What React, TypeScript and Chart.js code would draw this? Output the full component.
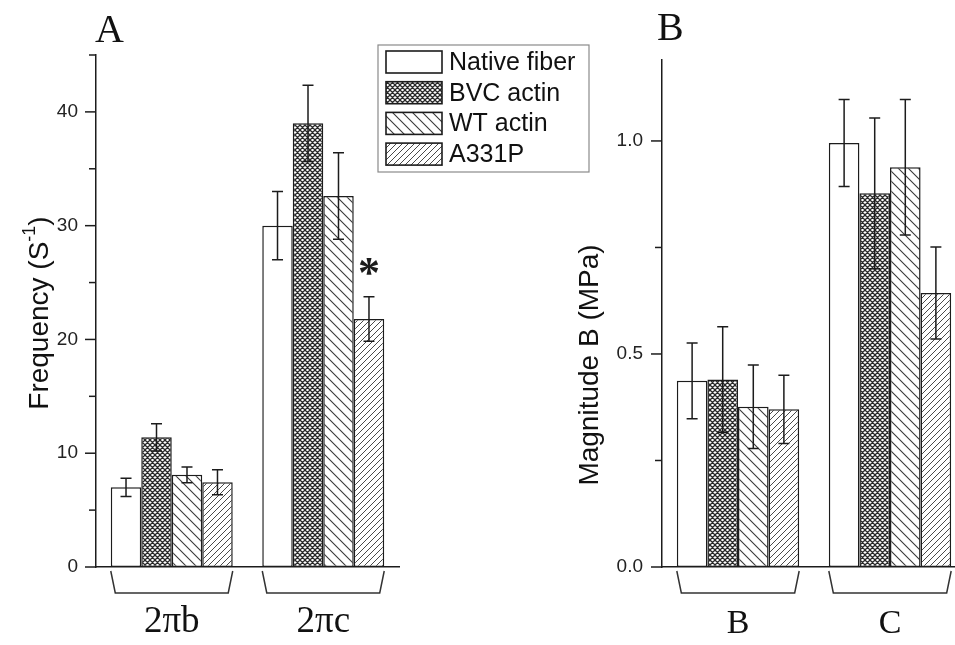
import React, { useEffect, useRef } from 'react';
import { Chart, registerables } from 'chart.js';

Chart.register(...registerables);

// ---------- data ----------
const seriesNames = ['Native fiber', 'BVC actin', 'WT actin', 'A331P'];

const freqCategories = ['2πb', '2πc'];
const freqNative = [7.0, 30.0];
const freqNativeErr = [0.8, 3.0];
const freqBVC = [11.4, 39.0];
const freqBVCErr = [1.2, 3.35];
const freqWT = [8.1, 32.6];
const freqWTErr = [0.7, 3.8];
const freqA331P = [7.45, 21.8];
const freqA331PErr = [1.1, 1.95];
const freqA331PMarks = ['', '*'];
const freqMax = 45;
const freqMinorStep = 5;
const freqMajorStep = 10;

const magCategories = ['B', 'C'];
const magNative = [0.437, 0.995];
const magNativeErr = [0.089, 0.102];
const magBVC = [0.44, 0.877];
const magBVCErr = [0.124, 0.177];
const magWT = [0.376, 0.938];
const magWTErr = [0.098, 0.159];
const magA331P = [0.37, 0.643];
const magA331PErr = [0.08, 0.108];
const magMax = 1.19;
const magMinorStep = 0.25;
const magMajorStep = 0.5;

// ---------- style ----------
const SANS = "'Liberation Sans', Arial, Helvetica, sans-serif";
const SERIF = "'Liberation Serif', 'Times New Roman', Times, serif";
const INK = '#1c1c1c';
const CAT_PCT = 0.805;

function makePattern(kind: string): any {
  const c = document.createElement('canvas');
  const s = kind === 'cross' ? 5 : kind === 'back' ? 10 : 6;
  c.width = s;
  c.height = s;
  const ctx = c.getContext('2d')!;
  ctx.fillStyle = '#fff';
  ctx.fillRect(0, 0, s, s);
  ctx.strokeStyle = kind === 'cross' ? '#2a2a2a' : kind === 'back' ? '#3a3a3a' : '#4a4a4a';
  ctx.lineWidth = kind === 'cross' ? 1.25 : kind === 'back' ? 1.1 : 1.0;
  ctx.beginPath();
  for (let k = -1; k <= 2; k++) {
    if (kind === 'cross' || kind === 'back') {
      ctx.moveTo(k * s - s - 1, -s - 1);
      ctx.lineTo(k * s + s + 1, s + 1);
    }
    if (kind === 'cross' || kind === 'fwd') {
      ctx.moveTo(k * s + s + 1, -s - 1);
      ctx.lineTo(k * s - s - 1, s + 1);
    }
  }
  ctx.stroke();
  return ctx.createPattern(c, 'repeat');
}

type TitlePart = { text: string; sup?: boolean };

interface DecorCfg {
  id: string;
  errors: number[][];
  marks?: string[][];
  letter: string;
  letterX: number;
  letterY: number;
  letterSize: number;
  title: TitlePart[];
  titleX: number;
  titleY: number;
  titleSize: number;
  legend?: { x: number; y: number; w: number; h: number };
}

function decorPlugin(cfg: DecorCfg) {
  return {
    id: cfg.id,
    afterDatasetsDraw(chart: any) {
      const ctx = chart.ctx;
      const ys = chart.scales.y;
      ctx.save();
      ctx.strokeStyle = INK;
      ctx.lineWidth = 1.5;
      chart.data.datasets.forEach((ds: any, di: number) => {
        const meta = chart.getDatasetMeta(di);
        meta.data.forEach((el: any, i: number) => {
          const v = ds.data[i];
          const e = cfg.errors[di][i];
          const yt = ys.getPixelForValue(v + e);
          const yb = ys.getPixelForValue(v - e);
          const x = el.x;
          ctx.beginPath();
          ctx.moveTo(x, yt);
          ctx.lineTo(x, yb);
          ctx.moveTo(x - 5.5, yt);
          ctx.lineTo(x + 5.5, yt);
          ctx.moveTo(x - 5.5, yb);
          ctx.lineTo(x + 5.5, yb);
          ctx.stroke();
          const m = cfg.marks && cfg.marks[di] ? cfg.marks[di][i] : '';
          if (m) {
            ctx.fillStyle = INK;
            ctx.font = `bold 44px ${SERIF}`;
            ctx.textAlign = 'center';
            ctx.textBaseline = 'alphabetic';
            ctx.fillText(m, x, yt - 10);
          }
        });
      });
      ctx.restore();
    },
    afterDraw(chart: any) {
      const ctx = chart.ctx;
      const area = chart.chartArea;
      const ys = chart.scales.y;
      const xs = chart.scales.x;
      ctx.save();
      // y ticks (major / minor)
      ctx.strokeStyle = INK;
      ctx.lineWidth = 1.5;
      ys.ticks.forEach((t: any) => {
        const py = ys.getPixelForValue(t.value);
        const len = t.label !== '' ? 11 : 7;
        ctx.beginPath();
        ctx.moveTo(area.left - len, py);
        ctx.lineTo(area.left, py);
        ctx.stroke();
      });
      // category brackets
      const n = chart.data.labels.length;
      const half = ((xs.right - xs.left) / n) * CAT_PCT / 2;
      ctx.strokeStyle = '#333';
      ctx.lineWidth = 1.5;
      for (let i = 0; i < n; i++) {
        const c = xs.getPixelForValue(i);
        const b = area.bottom;
        ctx.beginPath();
        ctx.moveTo(c - half, b + 4);
        ctx.lineTo(c - half + 4.5, b + 26);
        ctx.lineTo(c + half - 4.5, b + 26);
        ctx.lineTo(c + half, b + 4);
        ctx.stroke();
      }
      // panel letter
      ctx.fillStyle = '#111';
      ctx.font = `${cfg.letterSize}px ${SERIF}`;
      ctx.textAlign = 'left';
      ctx.textBaseline = 'alphabetic';
      ctx.fillText(cfg.letter, cfg.letterX, cfg.letterY);
      // y title (rotated, with superscript)
      ctx.save();
      ctx.translate(cfg.titleX, cfg.titleY);
      ctx.rotate(-Math.PI / 2);
      const mainFont = `${cfg.titleSize}px ${SANS}`;
      const supFont = `${Math.round(cfg.titleSize * 0.65)}px ${SANS}`;
      let total = 0;
      cfg.title.forEach((p) => {
        ctx.font = p.sup ? supFont : mainFont;
        total += ctx.measureText(p.text).width;
      });
      let cx = -total / 2;
      ctx.textBaseline = 'middle';
      cfg.title.forEach((p) => {
        ctx.font = p.sup ? supFont : mainFont;
        ctx.fillText(p.text, cx, p.sup ? -cfg.titleSize * 0.36 : 0);
        cx += ctx.measureText(p.text).width;
      });
      ctx.restore();
      // legend
      if (cfg.legend) {
        const L = cfg.legend;
        ctx.strokeStyle = '#8a8a8a';
        ctx.lineWidth = 1.2;
        ctx.strokeRect(L.x, L.y, L.w, L.h);
        chart.data.datasets.forEach((ds: any, di: number) => {
          const sy = L.y + 6 + di * 30.7;
          ctx.fillStyle = ds.backgroundColor;
          ctx.fillRect(L.x + 8, sy, 56, 22);
          ctx.strokeStyle = INK;
          ctx.lineWidth = 1.6;
          ctx.strokeRect(L.x + 8, sy, 56, 22);
          ctx.fillStyle = '#111';
          ctx.font = `25px ${SANS}`;
          ctx.textAlign = 'left';
          ctx.textBaseline = 'middle';
          ctx.fillText(ds.label, L.x + 71, sy + 12);
        });
      }
      ctx.restore();
    },
  };
}

function barDatasets(values: number[][], fills: any[]) {
  return values.map((vals, i) => ({
    label: seriesNames[i],
    data: vals,
    backgroundColor: fills[i],
    borderColor: INK,
    borderWidth: 1.5,
    borderSkipped: false,
    barPercentage: 1.0,
    categoryPercentage: CAT_PCT,
  }));
}

function baseOptions(o: {
  padRight: number;
  padTop: number;
  yWidth: number;
  xHeight: number;
  max: number;
  minorStep: number;
  majorStep: number;
  fmt: (v: number) => string;
  tickPad: number;
  catSize: number;
  catPad: number;
}) {
  return {
    animation: false,
    responsive: false,
    maintainAspectRatio: false,
    layout: { padding: { left: 0, right: o.padRight, top: o.padTop, bottom: 0 } },
    plugins: { legend: { display: false }, tooltip: { enabled: false } },
    scales: {
      x: {
        type: 'category',
        grid: { display: false, drawTicks: false },
        border: { display: true, color: INK, width: 1.5 },
        ticks: {
          font: { family: SERIF, size: o.catSize },
          color: '#111',
          padding: o.catPad,
          maxRotation: 0,
          autoSkip: false,
        },
        afterFit: (s: any) => {
          s.height = o.xHeight;
        },
      },
      y: {
        type: 'linear',
        min: 0,
        max: o.max,
        grid: { display: false, drawTicks: false },
        border: { display: true, color: INK, width: 1.5 },
        ticks: {
          stepSize: o.minorStep,
          includeBounds: false,
          autoSkip: false,
          callback: (v: number) => {
            const r = v / o.majorStep;
            return Math.abs(r - Math.round(r)) < 1e-6 ? o.fmt(v) : '';
          },
          font: { family: SANS, size: 19 },
          color: '#222',
          padding: o.tickPad,
        },
        afterFit: (s: any) => {
          s.width = o.yWidth;
        },
      },
    },
  };
}

export default function App() {
  const refA = useRef<HTMLCanvasElement>(null);
  const refB = useRef<HTMLCanvasElement>(null);

  useEffect(() => {
    const fills = ['#ffffff', makePattern('cross'), makePattern('back'), makePattern('fwd')];

    const chartA = new Chart(refA.current as HTMLCanvasElement, {
      type: 'bar',
      data: {
        labels: freqCategories,
        datasets: barDatasets([freqNative, freqBVC, freqWT, freqA331P], fills) as any,
      },
      options: baseOptions({
        padRight: 201,
        padTop: 55,
        yWidth: 96,
        xHeight: 78,
        max: freqMax,
        minorStep: freqMinorStep,
        majorStep: freqMajorStep,
        fmt: (v) => String(v),
        tickPad: 18,
        catSize: 37,
        catPad: 33,
      }) as any,
      plugins: [
        decorPlugin({
          id: 'decorA',
          errors: [freqNativeErr, freqBVCErr, freqWTErr, freqA331PErr],
          marks: [[], [], [], freqA331PMarks],
          letter: 'A',
          letterX: 95,
          letterY: 42,
          letterSize: 40,
          title: [{ text: 'Frequency (S' }, { text: '-1', sup: true }, { text: ')' }],
          titleX: 40,
          titleY: 313,
          titleSize: 28,
          legend: { x: 378, y: 45, w: 211, h: 127 },
        }),
      ],
    });

    const chartB = new Chart(refB.current as HTMLCanvasElement, {
      type: 'bar',
      data: {
        labels: magCategories,
        datasets: barDatasets([magNative, magBVC, magWT, magA331P], fills) as any,
      },
      options: baseOptions({
        padRight: 14,
        padTop: 60,
        yWidth: 102,
        xHeight: 78,
        max: magMax,
        minorStep: magMinorStep,
        majorStep: magMajorStep,
        fmt: (v) => v.toFixed(1),
        tickPad: 19,
        catSize: 34,
        catPad: 37,
      }) as any,
      plugins: [
        decorPlugin({
          id: 'decorB',
          errors: [magNativeErr, magBVCErr, magWTErr, magA331PErr],
          letter: 'B',
          letterX: 97,
          letterY: 40,
          letterSize: 40,
          title: [{ text: 'Magnitude B (MPa)' }],
          titleX: 30,
          titleY: 365,
          titleSize: 28,
        }),
      ],
    });

    return () => {
      chartA.destroy();
      chartB.destroy();
    };
  }, []);

  return (
    <div
      style={{
        position: 'fixed',
        left: 0,
        top: 0,
        width: 955,
        height: 645,
        overflow: 'hidden',
        background: '#fff',
      }}
    >
      <canvas
        ref={refA}
        width={600}
        height={645}
        style={{ position: 'absolute', left: 0, top: 0, width: 600, height: 645 }}
      />
      <canvas
        ref={refB}
        width={420}
        height={645}
        style={{ position: 'absolute', left: 560, top: 0, width: 420, height: 645 }}
      />
    </div>
  );
}
